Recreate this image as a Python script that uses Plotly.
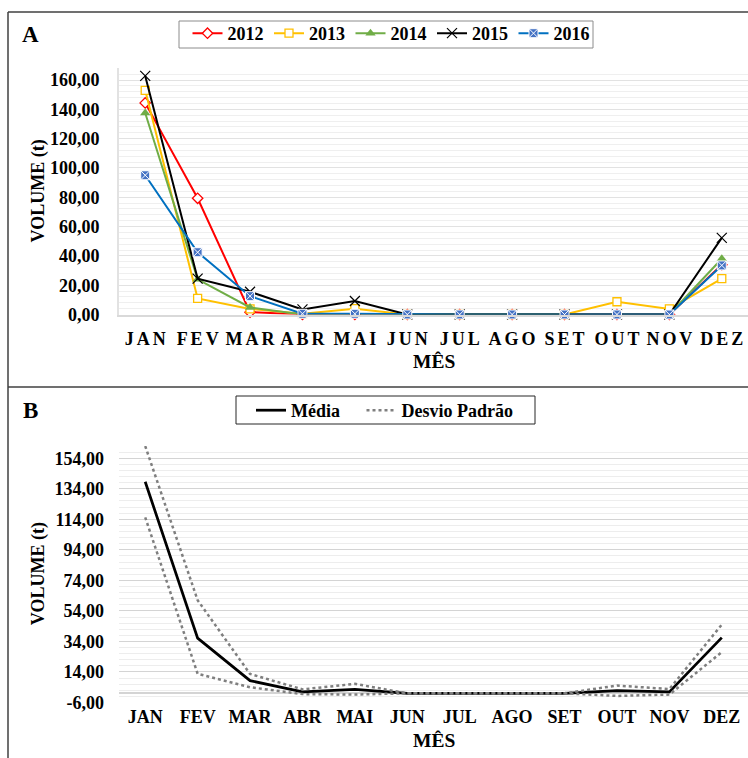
import plotly.graph_objects as go

# ---- dados ----
MESES = ["JAN", "FEV", "MAR", "ABR", "MAI", "JUN", "JUL", "AGO", "SET", "OUT", "NOV", "DEZ"]

V2012 = [144.4, 79.3, 1.6, 0.0, 0.0, 0.0, 0.0, 0.0, 0.0, 0.0, 0.0, 34.0]
V2013 = [153.0, 11.0, 3.8, 0.5, 4.0, 0.0, 0.0, 0.0, 0.0, 8.7, 3.8, 24.5]
V2014 = [137.5, 24.0, 4.8, 0.0, 0.0, 0.0, 0.0, 0.0, 0.0, 0.0, 0.0, 38.0]
V2015 = [162.8, 24.5, 15.5, 3.5, 9.2, 0.0, 0.0, 0.0, 0.0, 0.0, 0.0, 52.3]
V2016 = [95.0, 42.5, 12.5, 0.5, 0.5, 0.0, 0.0, 0.0, 0.0, 0.0, 0.0, 33.5]

MEDIA = [138.6, 36.2, 8.3, 1.0, 2.6, 0.0, 0.0, 0.0, 0.0, 1.7, 0.9, 36.5]
DP_SUP = [162.0, 61.0, 12.7, 2.6, 6.2, 0.0, 0.0, 0.0, 0.0, 5.1, 2.8, 45.0]
DP_INF = [115.3, 12.8, 4.0, -0.5, -0.8, 0.0, 0.0, 0.0, 0.0, -1.7, -0.8, 27.0]

# y tick values of panel B (labels written with a plain hyphen)
YB_TICKS = [-6, 14, 34, 54, 74, 94, 114, 134, 154]
YB_TICKTEXT = ["-6,00", "14,00", "34,00", "54,00", "74,00", "94,00", "114,00", "134,00", "154,00"]

W, H = 748, 758
H_EFF = 748.0  # vertical extent used for placing elements in paper units
FONT = "Liberation Serif, Times New Roman, serif"


def px_x(p):
    return p / W


def px_y(p):
    return 1 - p / H_EFF


# ---- layout geometry ----
X_DOM = [px_x(119), 1.0]
YA_DOM = [px_y(314.5), px_y(68.3)]
YB_DOM = [px_y(702.5), px_y(446.0)]
YA_RANGE = [0, 168]
YB_RANGE = [-6, 162]
# paper position of value 0 on panel B (category axis crosses there)
yb_zero = YB_DOM[0] + (0 - YB_RANGE[0]) / (YB_RANGE[1] - YB_RANGE[0]) * (YB_DOM[1] - YB_DOM[0])

spaced = ["\u2006".join(m) for m in MESES]

fig = go.Figure()

series = [
    ("2012", V2012, "#FF0000", dict(symbol="diamond", size=8, color="white", line=dict(color="#FF0000", width=1.3))),
    ("2013", V2013, "#FFC000", dict(symbol="square", size=8, color="white", line=dict(color="#FFC000", width=1.3))),
    ("2014", V2014, "#70AD47", dict(symbol="triangle-up", size=9, color="#70AD47", line=dict(width=0))),
    ("2015", V2015, "#000000", dict(symbol="x-thin", size=10, color="#000000", line=dict(color="#000000", width=1.2))),
    ("2016", V2016, "#0070C0", dict(symbol="square-x", size=9, color="#4472C4", line=dict(color="white", width=1))),
]
for name, vals, col, mk in series:
    fig.add_trace(go.Scatter(
        x=MESES, y=vals, name=name, mode="lines+markers",
        line=dict(color=col, width=2), marker=mk,
        xaxis="x", yaxis="y", legend="legend", cliponaxis=False,
        legendwidth=36.5,
    ))

fig.add_trace(go.Scatter(
    x=MESES, y=MEDIA, name="Média", mode="lines",
    line=dict(color="black", width=2.75),
    xaxis="x2", yaxis="y2", legend="legend2", legendwidth=65.5,
))
fig.add_trace(go.Scatter(
    x=MESES, y=DP_SUP, name="Desvio Padrão", mode="lines",
    line=dict(color="#7F7F7F", width=2.5, dash="dot"),
    xaxis="x2", yaxis="y2", legend="legend2", legendgroup="dp", legendwidth=125,
))
fig.add_trace(go.Scatter(
    x=MESES, y=DP_INF, name="Desvio Padrão", mode="lines",
    line=dict(color="#7F7F7F", width=2.5, dash="dot"),
    xaxis="x2", yaxis="y2", legend="legend2", legendgroup="dp", showlegend=False,
))

tick_font = dict(family=FONT, size=18, color="black", weight="bold")
leg_font = dict(family=FONT, size=18, color="black", weight="bold")

fig.update_layout(
    width=W, height=H,
    margin=dict(l=0, r=0, t=0, b=0),
    paper_bgcolor="white", plot_bgcolor="white",
    separators=",.",
    font=dict(family=FONT, color="black"),
    xaxis=dict(
        domain=X_DOM, anchor="y", type="category", range=[-0.5, 11.5],
        tickmode="array", tickvals=MESES, ticktext=spaced,
        ticks="", showgrid=False, zeroline=False,
        showline=True, linecolor="#D9D9D9", linewidth=2,
        tickfont=tick_font, ticklabelstandoff=7,
    ),
    yaxis=dict(
        domain=YA_DOM, anchor="x", range=YA_RANGE,
        tick0=0, dtick=20, tickformat=".2f",
        showgrid=True, gridcolor="#E2E2E2", gridwidth=1,
        minor=dict(tick0=0, dtick=4, showgrid=True, gridcolor="#EFEFEF", gridwidth=1),
        zeroline=False, showline=True, linecolor="#E2E2E2", linewidth=2,
        ticks="", tickfont=tick_font, ticklabelstandoff=14,
    ),
    xaxis2=dict(
        domain=X_DOM, anchor="y2", type="category", range=[-0.5, 11.5],
        tickmode="array", tickvals=MESES, ticktext=MESES,
        ticks="", showgrid=False, zeroline=False, showline=False,
        tickfont=tick_font, ticklabelstandoff=1,
    ),
    yaxis2=dict(
        domain=YB_DOM, anchor="x2", range=YB_RANGE,
        tickmode="array", tickvals=YB_TICKS, ticktext=YB_TICKTEXT,
        showgrid=True, gridcolor="#D4D4D4", gridwidth=1,
        minor=dict(tickmode="linear", tick0=-6, dtick=4, showgrid=True, gridcolor="#EDEDED", gridwidth=1),
        zeroline=True, zerolinecolor="#D4D4D4", zerolinewidth=1.5,
        showline=False, ticks="", tickfont=tick_font, ticklabelstandoff=14,
    ),
    # category axis of panel B crossing at zero, with ticks between months
    xaxis3=dict(
        domain=X_DOM, overlaying="x2", anchor="free", position=yb_zero,
        range=[-0.5, 11.5], tickmode="array",
        tickvals=[i - 0.5 for i in range(len(MESES) + 1)],
        ticks="outside", ticklen=5, tickcolor="#D4D4D4", tickwidth=1,
        showticklabels=False, showgrid=False, zeroline=False,
        showline=True, linecolor="#D4D4D4", linewidth=1.5,
    ),
    legend=dict(
        orientation="h", x=px_x(187.5), y=px_y(15), xanchor="left", yanchor="top",
        bgcolor="rgba(0,0,0,0)", borderwidth=0,
        font=leg_font, itemwidth=30, traceorder="normal",
    ),
    legend2=dict(
        orientation="h", x=px_x(251), y=px_y(392), xanchor="left", yanchor="top",
        bgcolor="rgba(0,0,0,0)", borderwidth=0,
        font=leg_font, itemwidth=30, traceorder="normal",
    ),
    showlegend=True,
)

ann_font = dict(family=FONT, size=18, color="black", weight="bold")
annotations = [
    dict(text="A", x=px_x(30), y=px_y(35), font=dict(family=FONT, size=23, color="black", weight="bold")),
    dict(text="B", x=px_x(30), y=px_y(410), font=dict(family=FONT, size=23, color="black", weight="bold")),
    dict(text="VOLUME (t)", x=px_x(38), y=(YA_DOM[0] + YA_DOM[1]) / 2, textangle=-90, font=ann_font),
    dict(text="VOLUME (t)", x=px_x(38), y=(YB_DOM[0] + YB_DOM[1]) / 2, textangle=-90, font=ann_font),
    dict(text="MÊS", x=(X_DOM[0] + X_DOM[1]) / 2, y=px_y(362), font=dict(family=FONT, size=19.5, color="black", weight="bold")),
    dict(text="MÊS", x=(X_DOM[0] + X_DOM[1]) / 2, y=px_y(740), font=dict(family=FONT, size=19.5, color="black", weight="bold")),
]
for a in annotations:
    a.update(xref="paper", yref="paper", showarrow=False, xanchor="center", yanchor="middle")
fig.update_layout(annotations=annotations)

# panel frames and legend boxes
frame = dict(type="line", xref="paper", yref="paper", line=dict(color="#404040", width=1.5))
fig.update_layout(shapes=[
    dict(frame, x0=px_x(8), x1=1.0, y0=px_y(12), y1=px_y(12)),
    dict(frame, x0=px_x(8), x1=px_x(8), y0=px_y(12), y1=px_y(H)),
    dict(frame, x0=px_x(8), x1=1.0, y0=px_y(387), y1=px_y(387)),
    dict(type="rect", xref="paper", yref="paper", x0=px_x(179), x1=px_x(593),
         y0=px_y(48), y1=px_y(21), line=dict(color="#8C8C8C", width=1)),
    dict(type="rect", xref="paper", yref="paper", x0=px_x(236), x1=px_x(535),
         y0=px_y(424), y1=px_y(396), line=dict(color="#262626", width=1)),
])

fig.write_html("out.html")
